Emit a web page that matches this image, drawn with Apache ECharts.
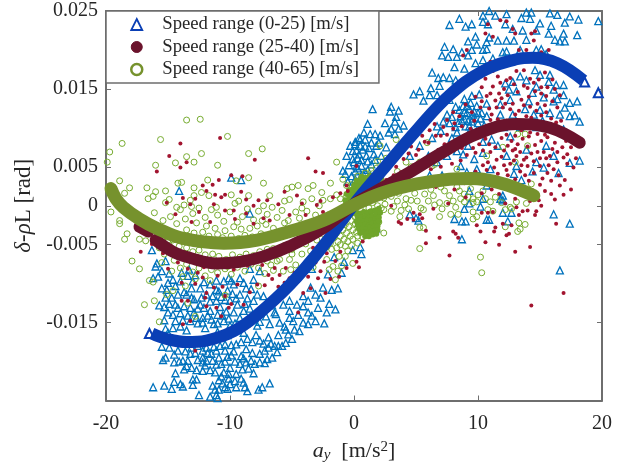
<!DOCTYPE html>
<html>
<head>
<meta charset="utf-8">
<script src="https://cdn.jsdelivr.net/npm/echarts@6/dist/echarts.min.js"></script>
<style>
  html, body { margin: 0; padding: 0; background: #fff; }
  #main { width: 627px; height: 468px; }
</style>
</head>
<body>
<div id="main"></div>
<script>
// all y values are in 1e-3 rad, labels are written out below
const xTicks = [-20, -10, 0, 10, 20];
const yTicks = [-25, -15, -5, 0, 5, 15, 25];
const yTickLabels = ['', '-0.015', '-0.005', '0', '0.005', '0.015', '0.025'];
const names = ['Speed range (0-25) [m/s]', 'Speed range (25-40) [m/s]', 'Speed range (40-65) [m/s]'];

const blueFit = [[-16.3,-16.4],[-15.1,-17.1],[-13.5,-17.5],[-11.9,-17.3],[-9.7,-16.1],[-7.8,-14],[-5.2,-10.2],[-2.5,-5.2],[0,0.2],[2.3,4.6],[5.1,9.8],[7.7,14.2],[10.4,17.3],[13.1,18.8],[14.4,19],[16.4,18.3],[18.5,16.1]];
const blueEnds = [[-16.5,-16.4],[18.6,15.9],[19.7,14.5]];
const redFitStart = [[-17.3,-2.7],[-16.6,-3.3]];
const redFit = [[-16,-4.4],[-14.6,-5.9],[-13.2,-6.7],[-11.1,-7.4],[-9.2,-7.2],[-7.3,-6.5],[-5.2,-5.2],[-2.5,-2.9],[0,0.2],[2.4,2.4],[4.5,4.3],[7.2,6.9],[9.9,9.2],[13.1,10.5],[15.8,10],[18.2,8.1]];
const greenFit = [[-19.6,2.2],[-19.2,0.9],[-18.6,-0.2],[-17.3,-1.7],[-15.9,-2.9],[-13.8,-4.2],[-10.5,-4.8],[-7.8,-4.4],[-5.2,-3.3],[-2.5,-1.9],[0,0.1],[2.4,1.7],[5.1,2.8],[7.7,3.4],[9.4,3.5],[10.4,3.4],[12.3,2.7],[14.5,1.3]];

const blueUpper = [
[7.7,23.2],[8.5,24],[9,23],[9.5,23.3],[10.4,24.4],[10.4,23.6],[10.8,23.3],[10.9,25],[11.4,24.4],[12.3,24.6],[13.5,24.1],[13.9,24.8],[14.3,24.8],[14.2,24],[15,23.4],[15.8,24.7],[16.4,24.5],[17.4,24.3],[18.1,23.9],[17,23.5],[15.9,23.1],[19.7,23.7],[13.6,22.5],[12.8,22.7],[12.2,23.3],[14.7,22.5],[15.7,22.1],[16.9,22.1],[18,21.9],[16.2,21.3],[17,21.1],[16.6,21.1],[9.8,21.7],[9.2,21.1],[9.9,20.7],[10.9,21.6],[10.7,21],[11.6,21.2],[12.3,21.2],[12.9,21.2],[13.9,21.3],[7.3,20.4],[8,20.1],[7.1,19.3],[7.6,19.1],[8.3,19.1],[8.7,19.7],[9.5,20],[9.2,19.3],[10.4,20],[10.7,20.1],[12,19.7],[12.3,19.8],[13.4,20],[14.7,20],[15.1,20.1],[15.5,19.5],[8.1,17.8],[8.9,17.6],[9.8,18.3],[10.4,18.7],[11.2,18.9],[6.3,17.1],[6.8,16.4],[7.2,16.5],[7.7,16.4],[8.2,16.1],[8.5,15.5],[8,15.1],[6.9,15.4],[6.2,15.1],[5.3,14.7],[4.8,14.3],[6.1,14.2],[6.7,14.2],[5.6,13.5],[7.7,13.6],[1.5,12.4],[3,12.7],[3.6,12.2],[2.9,12.1],[3.4,11.4],[3.3,10.8],[1.1,10.5],[2.5,10.6],[4,10.3],[3,9.9],[3.6,9.9],[2.8,9.4],[0.8,9.4],[1.3,9.2],[1.7,9.2],[2.1,9],[3.3,9.2],[0.4,8.7],[0.9,8.5],[0.1,7.9],[0.5,7.7],[1.4,8.1],[2,8.1],[2.6,7.5],[-0.1,7],[0.4,6.6],[1,6.4],[1.6,6.6],[2.2,6.4],[0,5.6],[0.6,5.1],[1.4,5.3],[0.1,4.4],[0.9,4.3],
[8.8,12.8],[9.4,13.2],[9.9,12.8],[10.3,11.9],[9.1,11.9],[9.6,11.7],[8.6,11.5],[8.4,10.6],[9.5,10.8],[10,10.6],[10.7,11.5],[9,10.2],[7.7,10.6],[7.2,10.8],[6.7,10.2],[7.5,11.7],[8.3,9.4],[9.2,9.2],[9.9,9.6],[11.8,11.7],[12.8,11.7],[12.6,13.6],[12.2,15.7],[12.8,15.9],[13.4,16.6],[14.6,17.4],[15,16.8],[15.8,16.8],[16.3,15.5],[16.9,15.5],[16.1,14.9],[16.9,14.2],[17.4,11.5],[18,13.4],[17.4,13.2],[16.6,11.7],[15.8,11.9],[18.2,10.8],[14.7,15.3],[13.9,16.1],[14.5,11.7],[15,12.3],[11.6,7.7],[12.3,6.4],[10.4,6.8],[9.2,7.7],[9.7,6],[8.8,6.6],[8.3,7],[7.5,6.4],[6.7,5.6],[6,6.4],[5.3,7.7],[4.5,6.4],[5.1,5.1],[9.1,4.3],[11,4.7],[9.9,4.7],[13.9,7.2],[14.7,5.6],[17.4,5.5],[18.2,5.8],[16.5,4.2],[15.5,7.7],[16.1,6.4],[13.1,5.1],[10.4,0.9],[11.8,0.9],[12,1.3],[8.9,12],[9.3,12.4],[9.7,12.1],[8.7,10.9],[9.2,10.9],[10.2,11.2],
[4.5,-1.1],[5,-1.6],[5.2,-1.9],[8.9,-0.4],[9.3,0.3],[8.1,-1.7],[8.7,-2],[9,-2],[10.7,-1.8],[10.9,-1.8],[8.7,-4.3],[12,-0.9],[12.7,-0.9],[12.4,-2],[10.2,-0.1],[16.1,-1.1],[17.4,-2.3],[16.6,-8.3],[1.8,-2.9],[0.5,-5.3],[0.6,-6.2],[-0.1,-5.7],[12,0.7],[-9.9,3.6],[-9.1,3.3],[-14.1,1.9],[-0.3,7.7],[0.1,8.2],[0.5,8.5],[-0.9,4.5],[-0.1,6],[0.2,5.1],[-0.2,3.8],[-0.5,3.1],
// dense patches, read by eye
[0.3,6.1],[0.7,7.2],[1.2,7.4],[1.8,7.7],[0.6,5.9],[1.1,5.7],[1.7,5.9],[0.2,7.1],[0.9,7.6],[0.1,3.4],[0.6,3.9],[1.1,4.6],[0.3,4.8],[0.9,3.5],[-0.4,5.2],[-0.6,6.4],[-0.7,4.1],[1.4,3.6],
[9.5,14.1],[8.9,13.7],[8.2,12.7],[10.7,13.1],[10.1,14.3],[9.1,12.8],[8.9,11.1],[9.6,11.2],[10,11.9],[9.3,10.2],[8.2,10.1],[10.5,10.3],[7.9,11.4],[8.5,12.3],[7,9.6],[6.3,8.7],[7.9,8.7],[8.8,8.5],[11.1,8.5],[10.4,8.2],[12.6,8.9],[13.4,10.1],[12.1,10.1],[14.7,10.1],[14.1,13.4],[15.3,13.9],[16.1,13.4],[14.4,14.5],[15.7,15.9],[13.1,14.7],[12.5,14.9],[11.8,13],[13.8,12.4],[17,12.6],[16.4,13.7],[17.8,11.6],[16.9,9.8],[15.2,10.9],[6.1,3.9],[7.1,3.9],[8.6,5.1],[12.9,4.1],[13.5,3.3],[11.5,2.9],[10.7,2.6],[9.3,1.9],[14.4,4.4],[15.3,4.9]
];
const blueLower = [
[-16.2,-23.3],[-15.3,-23.1],[-14.7,-23.5],[-14.5,-22.6],[-14,-22.9],[-13.8,-23.2],[-13,-23],[-13,-22.3],[-12.7,-22.3],[-12.5,-24.3],[-11.6,-24.5],[-11.1,-24.3],[-11,-24.7],[-10.4,-23.3],[-10.2,-23.5],[-9.5,-23.3],[-8.8,-23.3],[-8.6,-23.8],[-7.7,-23.6],[-7.4,-23.3],[-6.8,-22.8],[-14.4,-21.5],[-15.4,-19.8],[-15.2,-19.5],[-14.5,-20.1],[-13.8,-19.9],[-13.4,-19.9],[-13.1,-20.8],[-12.7,-21.1],[-12,-20.5],[-11.6,-21.1],[-12.2,-19.5],[-11.5,-19],[-10.7,-20.3],[-10.5,-21.4],[-10,-20.8],[-9.5,-21.6],[-9.1,-22.2],[-10.1,-22.2],[-10.9,-22.4],[-8.5,-20.9],[-8.1,-21.5],[-8.7,-20.1],[-8,-20.3],[-7,-19.7],[-6.6,-19.5],[-7.2,-18.6],[-6.2,-18.8],[-5.8,-18],[-6.4,-18],[-7.6,-17.3],[-6.9,-16.9],[-7.3,-17.7],[-5,-17.1],[-5.3,-16.5],[-4.4,-16.1],[-3.7,-15.2],[-2.4,-15.1],[-3.1,-14.8],[-4.9,-14.8],[-6,-15],[-5.2,-14.4],[-4.5,-14],[-3.7,-13.7],[-2.9,-13.1],[-1.5,-13.3],[-2,-12.6],[-2.7,-11.8],[-1.8,-10.8],[-1.3,-10.6],[-2.5,-10.5],[-4.1,-11.6],[-3.7,-12.2],[-4.6,-12.7],[-5.7,-12.7],[-6.4,-13.7],[-6.8,-15.2],[-7.8,-15.4],[-8.9,-16.3],[-9.5,-17.8],[-10.4,-18.6],[-9.7,-18.7],[-11.1,-18.6],[-11.9,-18.2],[-13.2,-19],[-14.2,-18.6],[-14.9,-18.2],[-15.5,-18.1],[-15.2,-15.8],[-14,-15.5],[-14.4,-14.8],[-15,-13.7],[-15.7,-12.8],[-15.3,-13],[-14.4,-12.7],[-14.7,-11.8],[-14.2,-11.4],[-13.5,-11.4],[-14.4,-10.3],[-15.1,-10.8],[-14,-9.7],[-14.6,-9.5],[-15.8,-9.1],[-15.5,-8.4],[-16.2,-9.3],[-16,-7.8],[-16.3,-5.7],[-15.9,-7.4],[-15.2,-7.1],[-13.2,-13.1],[-12.4,-12.7],[-11.6,-13.5],[-11.1,-12.2],[-12.2,-14.4],[-13.2,-14.8],[-11.3,-15.2],[-10.5,-14.8],[-9.7,-13.7],[-8.9,-13.5],[-10,-12.2],[-9.2,-11.4],[-8.1,-12.2],[-7.8,-11.4],[-8.7,-10.6],[-9.7,-10.1],[-10.5,-9.7],[-11.6,-10.1],[-12.4,-10.6],[-13,-9.7],[-11.9,-11.4],[-11.1,-10.8],[-9.2,-9.3],[-8.1,-9.5],[-7.6,-8.4],[-8.4,-8.1],[-8.4,-1],[-9.9,-9.6],[-7.3,-11.6],[-7.3,-13.1],[-6.3,-13.9],[-5.2,-12.2],
[-12.9,-13.7],[-12.6,-15.1],[-12,-15.7],[-11.5,-14.6],[-11,-14],[-10.8,-13],[-10.3,-13.6],[-10,-15.4],[-9.6,-15.1],[-9.2,-14.4],[-8.8,-12.6],[-8.4,-13.2],[-12.9,-12],[-12.3,-11.8],[-11.6,-12.3],[-10.7,-11.7],[-10.2,-10.9],[-9.5,-11.9],[-13.7,-12.9],[-14,-13.8],[-14.6,-14],[-13.5,-16],[-12.8,-18.9],[-12.2,-18.6],[-11.4,-19.9],[-10.9,-19.5],[-10.2,-19.4],[-9.6,-20],[-9.1,-19.3],[-8.7,-18.4],[-8.2,-18.9],[-7.6,-19],[-7.2,-20.2],[-11.2,-21.4],[-9,-21],[-8.9,-22.7],[-10,-22.9],[-11.2,-23.6],[-12.6,-19.8],[-13.7,-21],[-6.7,-17.7],[-6.1,-16.6],[-5.6,-15.5],[-15,-9.9],[-14.9,-8.7],[-13.4,-9],[-12.8,-8.9],[-1.6,-6.6],[-1,-8.6],[-0.8,-7.2],[-2.1,-8.8],[-3.4,-8.1],
// dense patches, read by eye
[-13.7,-11.1],[-13.1,-11.8],[-12.6,-13.2],[-12.1,-13.1],[-11.4,-11.6],[-10.9,-11],[-10.4,-12.1],[-9.8,-11.3],[-9.4,-12.7],[-8.6,-11.9],[-8.3,-10.7],[-12.7,-14.4],[-12.2,-15],[-11.8,-14.1],[-11,-15.1],[-10.6,-14.1],[-10.1,-14.5],[-9.3,-15.7],[-8.7,-15.1],[-8.3,-14.4],[-7.6,-14.9],[-13.4,-14.1],[-13.8,-14.7],[-14.2,-13.1],[-13.1,-10.6],[-12.1,-9.8],[-11.1,-9.6],[-10.1,-9.3],[-8.9,-9.9],[-11,-16.2],[-10.2,-16.6],[-11.8,-18.9],[-11.3,-18.1],[-10.8,-18],[-10.4,-17.8],[-9.9,-17.9],[-9.1,-17.5],[-8.6,-17.1],[-8.2,-17.5],[-7.9,-16.6],[-12.6,-18],[-13.1,-18.2],[-13.6,-18.7],[-14.5,-19.1],[-12.2,-20.1],[-11.9,-19.9],[-11.1,-20.4],[-10.4,-20],[-9.9,-19.2],[-9.2,-20.3],[-8.9,-19.6],[-8.3,-19.9],[-7.6,-20.1],[-6.9,-18.2],[-10.7,-21.9],[-10.1,-21.6],[-9.6,-22.5],[-10.6,-22.8],[-11.4,-23.1],[-10.9,-23.6],[-12.2,-21.2],[-13.5,-20.6],[-14.1,-20],[-6.1,-18],[-5.5,-17.6],[-5.5,-15.9],[-4.8,-15.9],[-4.1,-15],[-3.4,-14.1],[-5.2,-13.5],[-4.1,-12.9],[-6.6,-12.8],[-7.1,-14.2],[-2.2,-13.7],[-3.1,-11.4],[-3.5,-10.5],[-14.9,-12.6],[-15.2,-11.8],[-15.5,-10.6],[-13.9,-8.6],[-13.3,-8.2],[-15,-16.3],[-14.6,-15.7],[-15.3,-14.7]
];
const redDots = [
[10.8,23.3],[11.8,23.8],[12.3,23.7],[12.8,22.7],[13,22.1],[14.3,22.1],[14.6,22.4],[14.5,21.2],[10.6,22.1],[11.2,21.7],[9.1,20],[8.8,19.3],[11,18.5],[12.6,18.3],[13.3,20],[13.9,20],[15.1,19.7],[15.7,20],[13,18.9],
[5.5,9],[6.5,10.5],[7,9],[7.5,11],[8,12],[8.5,11.5],[9,13],[9.5,12],[6,8.1],[6.8,7.2],[7.3,7.9],[8.2,8.2],[5.2,7.2],[4.6,7.6],[4,6],[3.4,5],[4.8,5.2],[6.2,4.7],[7,5],[7.9,5.4],[8.6,5.8],[9.1,6.5],[9.6,7.4],[10.1,7.9],[10.6,8.6],[11,9.5],[11.4,10.2],[11.9,8.7],[12.3,9.1],[12.7,8.3],[13.2,7.9],[13.6,8.6],[14.1,8.9],[14.6,7.8],[15.1,8.3],[15.6,8.8],[16.2,8.1],[16.8,7.5],[17.2,6.6],[17.7,4.9],[16.4,5.6],[15.7,5.2],[15,6.1],[14.3,6.7],[13.7,5.9],[13.1,6.4],[12.6,5.4],[12.1,5.2],[11.5,5.9],[11,6.9],[10.4,5.2],[9.8,4.4],[9.4,3.6],[10.2,3.2],[11,3.6],[11.6,4.1],[12.4,3.9],[13,3.4],[13.8,3.9],[14.5,4.2],[15.2,3.5],[15.9,3.2],[16.6,2.6],[15.4,1.9],[14.4,2],[13.5,1.8],[14.9,0.7],[16.2,0.8],
[11.2,15.3],[11.7,14.4],[11.4,13.5],[12,12.6],[12.4,14.2],[12.8,13.1],[13.2,14.6],[13.7,15.4],[14.1,14],[14.6,14.7],[15.1,15.2],[15.5,14.1],[16,13.4],[16.4,12.6],[13.3,12.2],[13.7,12.9],[14.2,12.7],[14.8,13.1],[15.4,12.9],[12.1,15],[12.6,16.4],[13.1,17.3],[13.7,17.4],[14.2,16.3],[14.9,16.2],[15.4,17.1],[16,16.2],[11.6,16.6],[11.2,17.3],[10.7,14.1],[10.3,13.4],[10.9,12.5],[10.3,15.2],[9.8,14],
[7.5,9.1],[8,9.9],[8.9,9],[9.4,9.9],[10,8.9],[10.5,9.8],[11,11],[11.6,11.1],[12.3,10.9],[13,9],[13.5,9.7],[14.2,9.4],[14.8,9.2],[15.4,9.1],[16,7.3],[16.6,9.1],[17.1,8.3],[12.1,7.1],[12.8,7.1],[13.4,6.9],[14,7.6],[15.3,6.9],[15.8,6.4],[16.9,6.2],[10.7,4.6],[11.3,4.9],[8.4,3.9],[7.6,3.1],[8.9,2.9],[6.6,2.4],[5.6,3],
[5.8,-3.2],[5.8,-4.8],[6.9,-4.1],[7.7,-6.4],[8,-3.3],[8.2,-3.6],[8.4,-4.1],[10.2,-3.3],[9.9,-2.5],[10.6,-4.7],[11.4,-2.8],[11.3,-3.3],[11.7,-5],[12.3,-3.8],[12.5,-3.6],[13,-5.9],[14.2,-5.3],[16.3,-2.3],[16.9,-11.2],[14.3,-12.8],[15.1,0],[14.7,-0.7],[14,-0.6],[14.6,-1.2],[13.6,-0.7],[13.1,-0.2],[13.3,-1.2],[12.7,-2.5],[12,-2.3],[11.2,-0.8],[10.8,-0.9],[10.3,-0.9],[3.6,-2.1],[3.8,-2.3],[4.8,-0.9],[5.3,-1.1],[4.3,-1.7],[4.8,-1.8],[5.5,-1.6],[0.4,-7.9],[0.2,-7.2],[0.7,-4.6],[3,0],[6.4,-0.4],[7.6,0.3],
[-14,8],[-14.9,6.4],[-10.8,8.7],[-13.5,5.6],[-14,4.9],[-15.9,4.4],[-8,5.9],[-3.7,6.1],[-3.1,4.4],[-2.5,4.2],[-9,3.8],[-9.9,3.9],[-10.9,3.3],[-11.4,2.7],[-12.2,2.6],[-11.2,1.4],[-10.7,1.1],[-10.4,1.4],[-11.9,1.9],[-13.8,1],[-12.8,0.9],[-9.1,1.8],[-7.7,0.7],[-8.7,0.8],[-5.6,1.8],[-8.1,0],[-7,0.7],[-2.7,0.6],[-4.6,1.3],[-0.6,2.6],[-0.5,1.9],[0.2,5.1],
[-17.2,-5.9],[-15,-8.1],[-13.9,-9.9],[-13.9,-12.2],[-13.4,-12.2],[-12.6,-8.6],[-11.9,-11.2],[-12,-11.8],[-11.9,-12.9],[-11.1,-13.1],[-10.7,-14.2],[-10.1,-13.1],[-9.9,-12.6],[-13.2,-14.8],[-13.8,-15.2],[-12.8,-18.6],[-10.4,-11.6],[-8.9,-12.7],[-11.3,-10.5],[-7.8,-10.1],[-6.9,-8.9],[-7.4,-7.6],[-6.4,-8],[-5.5,-8],[-4.5,-9.7],[-3.7,-9.1],[-2.7,-8.4],[-2.9,-9.3],[-2.3,-11.2],[-2.2,-6.1],[-1.5,-7.1],[-0.6,-8],[-3.5,-10.6],[-4.1,-11.2],[-4.5,-13.7],[-5.2,-9.3],[-6,-8.9],
[-13.2,0.2],[-12.5,-0.8],[-11.3,0.2],[-10.4,-0.6],[-9.7,-0.6],[-8.7,-1],[-7.3,-1.6],[-5.2,-1.2],[-3.9,-1.2],[-2.5,-0.8],
// dense patches, read by eye
[11.1,11.7],[11.5,12.6],[11.9,13.8],[12.2,13.1],[12.6,12.4],[13,11.7],[13.5,13.6],[13.9,11.5],[14.3,11.3],[14.7,12.2],[15.1,11.6],[15.5,12],[15.9,11.2],[16.3,10.7],[16.7,10.9],[14,15.1],[14.5,15.8],[15.1,14.4],[15.6,15.2],[16.2,15],[16.6,14.2],[12.9,15.6],[12.3,16.1],[11.8,15.8],[11,14.4],[10.6,16.3],[10.2,12.6],[9.7,10.9],[8.7,10.2],[8.1,10.6],[7.2,10.1],[6.6,9],[6.1,9.7],[5.7,8.2],[5,6.5],[4.4,6.7],[3.8,4.3],[3.2,3.9],[2.6,3.3],[5.6,5.9],[6.4,6.3],[7.2,6.4],[7.9,7.1],[8.7,7.4],[9.3,8.3],[9.8,6.8],[10.4,7.1],[10.9,7.9],[11.4,7.5],[11.9,6.3],[12.4,7.7],[13,7.3],[13.5,5.2],[14,5.1],[14.5,5.7],[15,5.1],[15.6,4.2],[16.1,4.7],[16.5,3.9],[17,3.3],[17.5,2.1],[16.9,1.4],[15.9,1.5],[15,2.7],[14.1,3.2],[12.7,2.6],[11.9,3.1],[11.1,2.1],[10.3,1.6],[9,1.1],[8.1,2.1],[11.7,1.5],[13,0.9],[12.2,0.3],[14.2,0.6],[10.8,5.6],[12.3,4.6],[13.4,4.4],[15.5,6.1],[16.4,6.9],[17.5,7.5],[17.9,6.1],[17.2,5.4],[14.8,6.9],[13.9,6.2],[12.9,5.8],
[-12.8,-10],[-12.2,-9.2],[-11,-9],[-10.6,-10.4],[-9.4,-10.1],[-8.4,-11.1],[-7.2,-10.2],[-6.6,-9.4],[-6.1,-10.4],[-5.6,-9.9],[-4.8,-8.6],[-4.1,-7.7],[-3.1,-7.3],[-2.4,-7.2],[-1.9,-9.4],[-1.2,-9.1],[-1.1,-5.9],[-3.3,-5.4],[-8.6,-7.7],[-9.7,-8.2],[-10.9,-7.9],[-12.1,-7.9],[-13.4,-8.1],[-14.2,-7.3],[-15.4,-6.1],[-16.3,-4.9],[-6.8,-1.9],[-8.1,-2.3],[-9.6,-1.7],[-11.6,-2.1],[-13.1,-2.1],[-14.4,-1.1],[-15.1,0.4],[-6.1,0.2],[-4.2,0.3],[-3,0.1],[-1.7,1.1],[-1.1,1.6]
];
const greenCircles = [
[-19.9,5.6],[-19.7,6.9],[-18.7,8],[-18.9,3.2],[-18.1,2.3],[-18.5,1.6],[-15.6,8.5],[-13.5,11],[-12.4,11.1],[-10.2,8.9],[-7.4,7.3],[-8.5,6.7],[-12.3,6.7],[-13.5,6.3],[-14.4,5.5],[-12.9,5.6],[-16,5.2],[-11,5.2],[-11.8,3.3],[-13.9,3],[-14.2,2.9],[-16.7,2.3],[-16,1.8],[-15.2,1.9],[-16.6,0.9],[-16.2,1.2],[-12.9,2.3],[-12.9,1.3],[-12.3,1.7],[-9.9,1.4],[-11.7,1.3],[-13.2,0.7],[-14.9,0.8],[-15.2,0.4],[-13.7,0.1],[-14.3,-0.2],[-8.5,3.6],[-9.5,3.2],[-7.3,2.9],[-8.5,1.3],[-9.3,0.6],[-7.3,0],[-6.8,1.3],[-5.6,0.6],[-5.2,0.8],[-5.4,2.2],[-4.5,2.6],[-5,2.4],[-3.7,2.2],[-3.3,2.6],[-1.9,2.9],[-1.4,5.6],[-2.6,1.7],[-1.4,1.4],[-0.9,3.4],[-0.6,2.6],[-2.5,0.7],[-3.4,0.9],[-4.1,0.5],[-1.9,0.9],[-1.1,0.9],
[-19.6,-0.8],[-18.9,-1.9],[-18.9,-2.3],[-18.3,-3.6],[-18.5,-4.3],[-17.3,-4.3],[-16.8,-4.5],[-17.9,-7.1],[-17.3,-8.1],[-16.5,-9.6],[-16.2,-9.8],[-16.9,-12.7],[-16.1,-12.2],[-15.7,-14.9],[-15.1,-11.4],[-14.6,-10.9],[-13.6,-10.3],[-13.4,-12.5],[-12.8,-14.2],[-10.4,-11.5],[-7.7,-10.3],[-1.5,-9.5],
[-14,-0.5],[-13,-1],[-12.5,-0.3],[-12,-1.5],[-11.5,-0.5],[-11,-1.2],[-10.5,-2],[-10,-0.8],[-9.6,0.3],[-9,-1.4],[-8.6,-0.4],[-8.1,-1.8],[-7.7,-0.7],[-7,-1.1],[-6.6,-0.2],[-6.2,-1.5],[-5.8,-0.6],[-5.3,-1.9],[-4.7,-0.8],[-4.2,-0.3],[-3.8,-0.7],[-3.1,-1.2],[-2.8,0],[-13.6,-1.7],[-12.7,-2.2],[-11.9,-2.6],[-11.2,-2.9],[-10.4,-3.2],[-9.7,-2.7],[-9.1,-3],[-8.4,-2.9],[-7.8,-2.6],[-7.1,-2.4],[-6.5,-2.9],[-14.8,-1.4],[-15.4,-1.9],[-16.1,-0.9],[-14.3,-2.3],
[-14.5,-7],[-14,-8],[-13.5,-7.5],[-13,-8.5],[-12.5,-8],[-12,-9],[-15.3,-6.2],[-15.7,-5.4],[-14.9,-5.1],[-13.8,-6.1],[-12.9,-7],[-12.2,-7.5],[-11.5,-8.2],[-11,-8.6],[-10.4,-8.1],[-9.9,-8.8],[-9.4,-7.9],[-8.8,-8.4],[-8.3,-7.5],[-7.7,-8],[-7.2,-8.7],[-6.7,-7.6],[-6.2,-7.1],[-5.7,-8.4],[-5.2,-6.9],[-4.7,-7.6],[-4.2,-6.2],[-3.7,-7.3],[-3.2,-6.7],[-2.8,-5.6],[-2.2,-6.9],[-1.7,-7.8],[-1.2,-6.5],[-1,-7.7],[-0.5,-5.8],[-6,-6],[-5,-5.6],[-3.9,-4.9],[-3,-4.4],[-2.4,-3.7],
[5.3,-2.8],[5.6,-2.8],[5.3,-5.5],[10.2,-6.6],[10.3,-8.6],[2.4,-3.5],[6.9,-1.4],[7.8,-1.1],[8.4,-1.1],[9.6,-0.8],[9.6,-1.7],[9.9,-1.4],[3.8,-0.6],[3.7,-1.4],[3,-0.7],[2.4,-0.5],[13.1,0.5],[13.9,0.3],[12.7,-0.4],[12.2,-2.7],[13.3,-2.2],[13.8,-2.4],[13.2,-3.3],[13.4,-3],[10.8,-0.5],[11.2,-0.7],[9.6,0.4],[-0.1,-7.4],[2,-2.1],
[2.1,7.7],[3.4,8.5],[6.5,5.3],[8.3,4.7],[10.7,6.4],[12,7.5],[14,7.7],[13.2,9.2],[13.8,9.2],[13,5.6],[14.3,2.8],[4.2,5.6],[5.3,5.6],[6.3,5.1],[5.9,8.1],[4.6,5],[4.2,0.9],[4.6,0.7],[6.4,1.3],[7.7,1.3],[8.5,1.9],[8.9,1.5],[10.4,1.9],[9.9,0.5],[9.6,0.9],[11,0.5],[12.6,-0.2],[5.1,0.6],[5.7,1.5],[6.9,0.4],[7.3,1.9],[8,0.6],[3.5,0.6],[3,1.2],[2.5,0.2],[2.9,3],[3.5,4.4],[4,3.7],[1.9,5.7],[2.6,6.1],
[-2.4,-4.6],[-2.1,-3.9],[-1.9,-4.8],[-1.8,-3.2],[-1.6,-4.1],[-1.5,-2.6],[-1.4,-3.5],[-1.3,-4.6],[-1.2,-2.9],[-1.1,-3.9],[-1,-2.1],[-0.9,-3.1],[-0.8,-4.3],[-0.7,-2.4],[-0.6,-3.5],[-0.5,-1.5],[-0.4,-2.7],[-0.3,-3.9],[-0.2,-1.9],[-0.1,-3.1],[0,-0.9],[0.1,-2.3],[0.2,-3.4],[0.3,-1.2],[0.4,-2.6],[0.5,-0.4],[0.6,-1.7],[0.7,-3],[0.8,0.3],[0.9,-1],[1,-2.2],[1.1,0.8],[1.2,-0.3],[1.3,-1.5],[1.4,1.6],[1.5,0.4],[1.6,-0.8],[1.7,2.4],[1.8,1.2],[1.9,0],[2,3.2],[2.1,1.9],[2.2,4.5],[2.3,2.8],[-1.7,-1.6],[-1.2,-1.1],[-0.8,-0.6],[-0.4,-0.3],[-0.1,0.4],[0.1,1],[0.3,1.7],[0.5,2.4],[0.7,1.2],[0.9,3],[1,2],[1.2,3.6],[1.3,2.7],[1.5,4.1],[1.6,3.3],[1.8,4.8],[-0.2,0.8],[-0.6,0.3],[0,1.9],[0.4,3.2],[-2,-2.3],[-1.4,-1.9],[-0.9,-1.4],[-0.3,-1],[0.2,-0.2],[0.6,0.5],
// dense patches, read by eye
[-0.5,-4.6],[-0.1,-4.3],[0.3,-3.9],[0.7,-4],[1.1,-3.2],[1.5,-2.4],[1.9,-1.4],[2.2,-0.3],[2.4,1],[0.1,-1.5],[0.5,-2.2],[0.9,-2.7],[1.3,-0.8],[-1.1,-5],[-0.7,-5.2],[-0.2,-5.1],[0.3,-4.8],[-1.8,-5.6],[-1.4,-5.4],[-2.2,-5.3],[0.2,1.4],[0.6,1.9],[0.2,2.6],[0.8,2.3],[1.2,1.4],[1.6,1.9],[1.9,2.9],[1.1,3],[0.7,3.6],[1.4,4.5],[0.9,4.2],[0.3,3.8],[-0.2,2.7],[-0.6,1.2],[-0.2,1.5],
[-13.5,-3.1],[-12.9,-3.5],[-12.2,-3.4],[-11.7,-3.9],[-11,-3.7],[-10.6,-4.1],[-9.9,-3.9],[-9.3,-4.2],[-8.8,-3.8],[-8.2,-4],[-7.5,-3.6],[-7,-3.9],[-6.4,-3.6],[-5.9,-3.3],[-5.2,-3.4],[-4.6,-2.8],[-4,-2.4],[-3.4,-2.9],[-3,-2.2],[-15,-3.2],[-14.6,-4.4],[-14.1,-5.2],[-13.5,-5.4],[-13,-5.9],[-12.5,-5.7],[-12,-6.3],[-11.4,-6.2],[-10.9,-6.5],[-10.3,-6.9],[-9.8,-6.3],[-9.2,-6.6],[-8.7,-6.2],[-8.1,-6.4],[-7.6,-5.9],[-7,-5.6],[-6.5,-5.5],[-5.6,-5.1],[-4.6,-5],[-3.5,-5.8],[-2.6,-4.9],[-12.6,-6.9],[-11.8,-7.1],[-11,-7.4],[-10.2,-7.8],[-9.4,-7.2],[-8.6,-7.1],[-7.8,-6.9],[-7,-7.1],[-6,-6.9],[-5,-6.2],[-13.8,-9.1],[-12.8,-9.4],[-11.6,-9.6],[-6.5,-8.3],[-5.1,-8.2],[-3.3,-7.9],[-2,-8.2],[-1.3,-8.4],[-0.7,-6.5],[-15.1,-4],[-16.1,-3.1],[-15.5,-7.3],[-14.7,-8.4],[-13.1,-0.1],[-11.1,-0.2],[-9.4,-2.1],[-7.4,-1.9],[-5.6,-2.2],[-4.4,-1.6],[-2.1,-1.2],
[3.2,-0.1],[3.6,1.6],[4.1,0.1],[4.9,1.6],[5.4,-0.3],[6,0.6],[6.5,0.1],[7.1,-0.4],[7.5,0.3],[8.2,-0.2],[8.9,0.5],[8.6,0.9],[9.2,1.1],[10,1.4],[10.6,0.9],[11.4,1.1],[11.9,0.4],[12.2,-0.5],[6.2,2.1],[7,2.4],[8.3,2.4],[9.4,2.2],[5.6,-0.5],[4.4,-0.4]
];
// the solid green blob around the origin, read by eye
const greenBlob = [
[0.2,-0.9],[0.5,-1],[0.8,-0.8],[1.1,-0.9],[1.4,-0.7],[1.7,-0.6],[2,-0.4],[0.3,-1.4],[0.6,-1.5],[0.9,-1.4],[1.2,-1.5],[1.5,-1.3],[1.8,-1.1],[2.1,-0.9],[0.2,-2],[0.5,-1.9],[0.8,-2],[1.1,-1.9],[1.4,-1.9],[1.7,-1.7],[2,-1.5],[0.3,-2.5],[0.6,-2.5],[0.9,-2.4],[1.2,-2.5],[1.5,-2.2],[1.8,-2.2],[2,-2],[0.4,-3],[0.7,-2.9],[1,-3],[1.3,-2.8],[1.6,-2.7],[1.9,-2.6],[0.5,-3.5],[0.8,-3.4],[1.1,-3.5],[1.4,-3.3],[1.7,-3.2],[1.9,-3.1],[0.9,-3.9],[1.2,-3.9],[1.5,-3.7],[1.8,-3.6],
[-0.7,0.7],[-0.4,0.9],[-0.1,1.1],[0.2,1],[0.5,1.1],[0.8,1],[1.1,1.1],[1.4,1],[1.7,1.2],[-0.6,1.5],[-0.3,1.4],[0,1.6],[0.3,1.6],[0.6,1.5],[0.9,1.5],[1.2,1.8],[1.5,1.5],[1.8,1.7],[2.1,1.5],[-0.4,2],[-0.1,2.1],[0.2,2.1],[0.5,2],[0.8,1.9],[1.1,2.2],[1.4,2.2],[1.7,2],[2,2.2],[0,2.6],[0.3,2.7],[0.6,2.6],[0.9,2.6],[1.2,2.6],[1.5,2.7],[1.8,2.5],[2.1,2.6],[0.2,3.2],[0.5,3.1],[0.8,3.1],[1.1,3.2],[1.4,3.2],[1.7,3.1],[2,3],[0.6,3.7],[1,3.6],[1.3,3.8],[1.6,3.7],[1.9,3.6],[2.2,3.5]
];

const tri = { color: 'transparent', borderColor: '#0072BD', borderWidth: 1.3, opacity: 1 };
const ring = { color: 'transparent', borderColor: '#77AC30', borderWidth: 1, opacity: 1 };

const axisGray = '#6e6e6e';
const textDark = '#262626';
const serif = 'Liberation Serif';

function fitLine(name, data, color, width, cap) {
  return { name, type: 'line', data, smooth: 0.4, showSymbol: false, symbol: 'none', z: 5, clip: false,
    lineStyle: { color, width, cap: cap || 'round' }, itemStyle: { color } };
}

const chart = echarts.init(document.getElementById('main'));
chart.setOption({
  animation: false,
  backgroundColor: '#fff',
  grid: { left: 106, top: 11, width: 496, height: 391 },
  legend: {
    left: 106, top: 11, orient: 'vertical', padding: [4, 20, 4, 24], itemGap: 3.5,
    itemWidth: 11, itemHeight: 11,
    backgroundColor: '#fff', borderColor: axisGray, borderWidth: 1.5,
    textStyle: { fontFamily: serif, fontSize: 18.7, lineHeight: 19, color: textDark, padding: [0, 0, 0, 15] },
    data: [
      { name: names[0], icon: 'triangle', itemStyle: { color: 'transparent', borderColor: '#0a3fb5', borderWidth: 1.8, opacity: 1 } },
      { name: names[1], icon: 'circle', itemStyle: { color: '#6b132c', borderColor: '#6b132c', borderWidth: 1, opacity: 1 } },
      { name: names[2], icon: 'circle', itemStyle: { color: 'transparent', borderColor: '#76922d', borderWidth: 2.5, opacity: 1 } }
    ]
  },
  xAxis: [
    { type: 'value', min: -20, max: 20, interval: 10, splitLine: { show: false },
      axisLine: { onZero: false, lineStyle: { color: axisGray, width: 2 } },
      axisTick: { inside: true, length: 5, lineStyle: { color: axisGray, width: 1 } },
      axisLabel: { fontFamily: serif, fontSize: 20, color: textDark, margin: 13, customValues: xTicks },
      name: '{i|a}{s|y}{t|  [m/s}{u|2}{t|]}', nameLocation: 'middle', nameGap: 39,
      nameTextStyle: { fontFamily: serif, rich: {
        i: { fontFamily: serif, fontStyle: 'italic', fontSize: 22, color: textDark },
        s: { fontFamily: serif, fontStyle: 'italic', fontSize: 15, color: textDark, padding: [8, 0, 0, 0] },
        t: { fontFamily: serif, fontSize: 22, color: textDark },
        u: { fontFamily: serif, fontSize: 15, color: textDark, padding: [0, 0, 9, 0] }
      } } },
    { type: 'value', min: -20, max: 20, interval: 10, position: 'top', splitLine: { show: false },
      axisLine: { onZero: false, lineStyle: { color: axisGray, width: 2 } },
      axisTick: { inside: true, length: 5, lineStyle: { color: axisGray, width: 1 } },
      axisLabel: { show: false } }
  ],
  yAxis: [
    { type: 'value', min: -25, max: 25, splitLine: { show: false },
      axisLine: { onZero: false, lineStyle: { color: axisGray, width: 2 } },
      axisTick: { inside: true, length: 5, lineStyle: { color: axisGray, width: 1 }, customValues: yTicks },
      axisLabel: { fontFamily: serif, fontSize: 20, color: textDark, margin: 8, customValues: yTicks, padding: [6, 0, 0, 0],
        formatter: v => yTickLabels[yTicks.indexOf(v)] },
      name: '{i|δ}{t|-}{i|ρ}{t|L [rad]}', nameLocation: 'middle', nameRotate: 90, nameGap: 71,
      nameTextStyle: { fontFamily: serif, rich: {
        i: { fontFamily: serif, fontStyle: 'italic', fontSize: 23, color: textDark },
        t: { fontFamily: serif, fontSize: 23, color: textDark }
      } } },
    { type: 'value', min: -25, max: 25, position: 'right', splitLine: { show: false },
      axisLine: { onZero: false, lineStyle: { color: axisGray, width: 2 } },
      axisTick: { inside: true, length: 5, lineStyle: { color: axisGray, width: 1 }, customValues: yTicks },
      axisLabel: { show: false } }
  ],
  series: [
    { name: names[0], type: 'scatter', data: blueUpper.concat(blueLower), symbol: 'triangle', symbolSize: 7, itemStyle: tri, z: 2 },
    { name: names[2], type: 'scatter', data: greenCircles, symbol: 'circle', symbolSize: 6, itemStyle: ring, z: 3 },
    { name: names[2], type: 'scatter', data: greenBlob, symbol: 'circle', symbolSize: 6, itemStyle: { color: '#6fa52a', opacity: 1 }, z: 3 },
    { name: names[1], type: 'scatter', data: redDots, symbol: 'circle', symbolSize: 4, itemStyle: { color: '#A2142F', opacity: 1 }, z: 4 },
    fitLine(names[0], blueFit, '#0a3fb5', 12, 'butt'),
    { name: names[0], type: 'scatter', data: blueEnds, symbol: 'triangle', symbolSize: 9, z: 5,
      itemStyle: { color: 'transparent', borderColor: '#0a3fb5', borderWidth: 2, opacity: 1 } },
    fitLine(names[1], redFitStart, '#6b132c', 12),
    fitLine(names[1], redFit, '#6b132c', 12),
    fitLine(names[2], greenFit, '#76922d', 13)
  ]
});
</script>
</body>
</html>
